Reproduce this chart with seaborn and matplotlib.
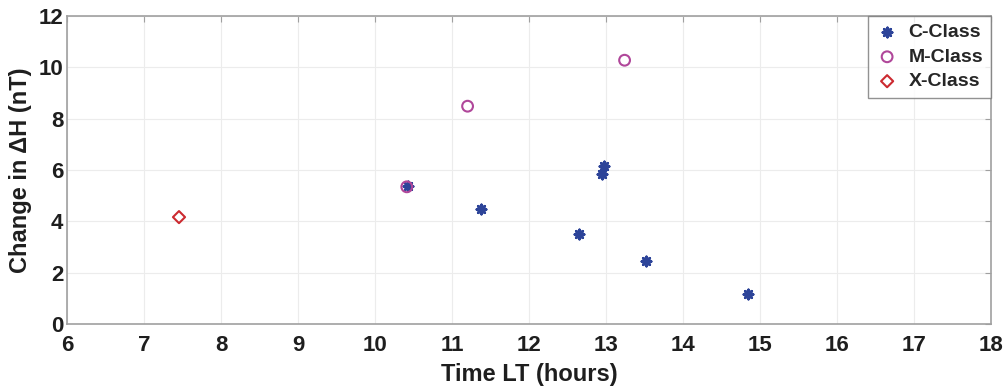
import pandas as pd
import seaborn as sns
import matplotlib.pyplot as plt

# data
c_time = [10.42, 11.38, 12.65, 12.95, 12.97, 13.52, 14.84]
c_dh = [5.38, 4.47, 3.53, 5.83, 6.17, 2.47, 1.17]
m_time = [10.41, 11.20, 13.24]
m_dh = [5.35, 8.49, 10.28]
x_time = [7.45]
x_dh = [4.17]

df = pd.concat([
    pd.DataFrame({'time': c_time, 'dh': c_dh, 'cls': 'C-Class'}),
    pd.DataFrame({'time': m_time, 'dh': m_dh, 'cls': 'M-Class'}),
    pd.DataFrame({'time': x_time, 'dh': x_dh, 'cls': 'X-Class'}),
], ignore_index=True)

sns.set_style('whitegrid')
plt.rcParams['font.family'] = ['Liberation Sans', 'DejaVu Sans']

fig = plt.figure(figsize=(10.06, 3.92), dpi=100)
ax = fig.add_axes([0.067, 0.173, 0.918, 0.786])

# C-Class: asterisk, M-Class: open circle, X-Class: open diamond
sns.scatterplot(data=df[df['cls'] == 'C-Class'], x='time', y='dh', ax=ax,
                marker=(8, 2, 0), color='#2d4499', edgecolor='#2d4499',
                s=45, linewidth=1.9, label='C-Class', zorder=3)
sns.scatterplot(data=df[df['cls'] == 'M-Class'], x='time', y='dh', ax=ax,
                marker='o', facecolors='none', edgecolor='#b0479a',
                s=60, linewidth=1.5, label='M-Class', zorder=3)
sns.scatterplot(data=df[df['cls'] == 'X-Class'], x='time', y='dh', ax=ax,
                marker='D', facecolors='none', edgecolor='#cc2a30',
                s=38, linewidth=1.5, label='X-Class', zorder=3)

ax.set_xlim(6, 18)
ax.set_ylim(0, 12)
ax.set_xticks(range(6, 19))
ax.set_yticks(range(0, 13, 2))
ax.grid(True, color='#ececec', linewidth=0.8)
for sp in ax.spines.values():
    sp.set_color('#a0a0a0')
    sp.set_linewidth(1.2)
ax.tick_params(axis='both', labelsize=16, colors='#a0a0a0', labelcolor='#1e1e1e',
               length=4, direction='in', width=0.8, top=True, right=True)
ax.tick_params(axis='x', pad=8)
ax.tick_params(axis='y', pad=3)
for lab in ax.get_xticklabels() + ax.get_yticklabels():
    lab.set_fontweight('bold')

ax.set_xlabel('Time LT (hours)', fontsize=17, fontweight='bold', color='#1e1e1e', labelpad=5)
ax.set_ylabel('Change in \u0394H (nT)', fontsize=17, fontweight='bold', color='#1e1e1e', labelpad=5)

leg = ax.legend(loc='upper right', fontsize=14, frameon=True, fancybox=False,
                borderaxespad=0.0, handletextpad=0.5, labelspacing=0.35,
                borderpad=0.4, handlelength=1.2)
leg.get_frame().set_edgecolor('#777777')
leg.get_frame().set_linewidth(1.0)
for t in leg.get_texts():
    t.set_fontweight('bold')

plt.savefig('out.png', dpi=100)
